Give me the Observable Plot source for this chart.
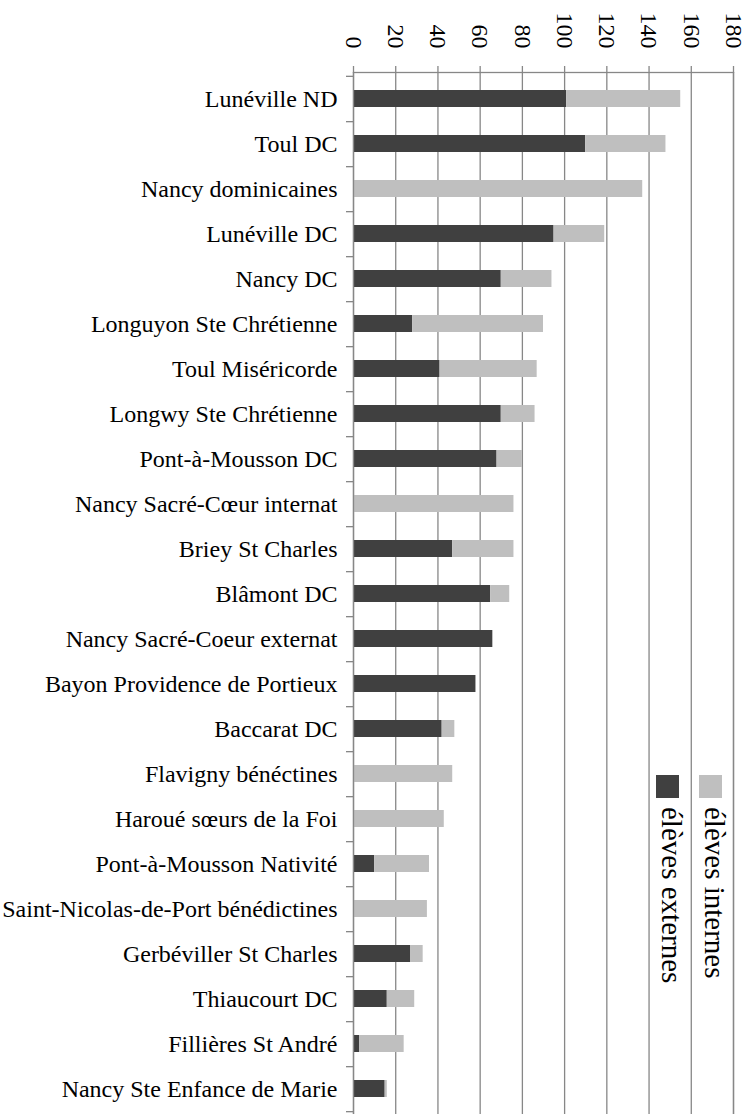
<!DOCTYPE html>
<html><head><meta charset="utf-8">
<script src="https://cdn.jsdelivr.net/npm/d3@7"></script>
<script src="https://cdn.jsdelivr.net/npm/@observablehq/plot@0.6"></script>
<style>
body{margin:0;background:#fff;}
svg{font-family:"Liberation Serif","Times New Roman",serif;}
</style>
</head><body><div id="chart"></div>
<script>
const categories = [
  "Lunéville ND",
  "Toul DC",
  "Nancy dominicaines",
  "Lunéville DC",
  "Nancy DC",
  "Longuyon Ste Chrétienne",
  "Toul Miséricorde",
  "Longwy Ste Chrétienne",
  "Pont-à-Mousson DC",
  "Nancy Sacré-Cœur internat",
  "Briey St Charles",
  "Blâmont DC",
  "Nancy Sacré-Coeur externat",
  "Bayon Providence de Portieux",
  "Baccarat DC",
  "Flavigny bénéctines",
  "Haroué sœurs de la Foi",
  "Pont-à-Mousson Nativité",
  "Saint-Nicolas-de-Port bénédictines",
  "Gerbéviller St Charles",
  "Thiaucourt DC",
  "Fillières St André",
  "Nancy Ste Enfance de Marie"
];
const externes = [101, 110, 0, 95, 70, 28, 41, 70, 68, 0, 47, 65, 66, 58, 42, 0, 0, 10, 0, 27, 16, 3, 15];
const internes = [54, 38, 137, 24, 24, 62, 46, 16, 12, 76, 29, 9, 0, 0, 6, 47, 43, 26, 35, 6, 13, 21, 1];
const seriesNames = ["élèves externes", "élèves internes"];
const seriesColors = ["#404040", "#bfbfbf"];
const xTicks = [0, 20, 40, 60, 80, 100, 120, 140, 160, 180];

const rows = [];
categories.forEach((c, i) => {
  rows.push({cat: c, series: seriesNames[0], value: externes[i]});
  rows.push({cat: c, series: seriesNames[1], value: internes[i]});
});

const W = 754, H = 1115, mL = 353, mR = 21, mT = 72, mB = 0;
const step = (H - mT - mB) / categories.length;
const gridColor = "#878787";

const chart = Plot.plot({
  width: W, height: H,
  marginLeft: mL, marginRight: mR, marginTop: mT, marginBottom: mB,
  style: {fontFamily: '"Liberation Serif","Times New Roman",serif', fontSize: "24px", background: "#fff", overflow: "visible"},
  x: {domain: [0, 180], axis: null, label: null},
  y: {domain: categories, paddingInner: 0.62, paddingOuter: 0.31, axis: null, label: null},
  color: {domain: seriesNames, range: seriesColors},
  marks: [
    Plot.gridX(xTicks, {stroke: gridColor, strokeOpacity: 1, strokeWidth: 1.3}),
    Plot.barX(rows, {x: "value", y: "cat", fill: "series"}),
    Plot.frame({stroke: gridColor, strokeWidth: 1.3}),
    Plot.axisX(xTicks, {anchor: "top", label: null, tickSize: 7, tickRotate: 90, tickPadding: 17, stroke: gridColor, strokeWidth: 1.3, fill: "#000", fontSize: 24}),
    Plot.axisY({label: null, tickSize: 0, tickPadding: 16, fontSize: 24, fill: "#000"}),
    Plot.axisY({label: null, tickSize: 7, text: null, dy: step / 2, stroke: gridColor, strokeWidth: 1.3}),
    Plot.axisY([categories[0]], {label: null, tickSize: 7, text: null, dy: -step / 2, stroke: gridColor, strokeWidth: 1.3})
  ]
});

// legend (rotated, inside the plot area)
const svg = d3.select(chart);
const leg = svg.append("g").attr("font-size", 29).attr("fill", "#000").attr("text-anchor", "start");
const legendItems = [
  {name: seriesNames[1], color: seriesColors[1], x: 699},
  {name: seriesNames[0], color: seriesColors[0], x: 656}
];
legendItems.forEach(d => {
  leg.append("rect").attr("x", d.x).attr("y", 775).attr("width", 23).attr("height", 23).attr("fill", d.color);
  leg.append("text").attr("text-anchor", "start").attr("transform", `translate(${d.x + 6},807) rotate(90)`).text(d.name);
});

document.getElementById("chart").appendChild(chart);
</script>
</body></html>
